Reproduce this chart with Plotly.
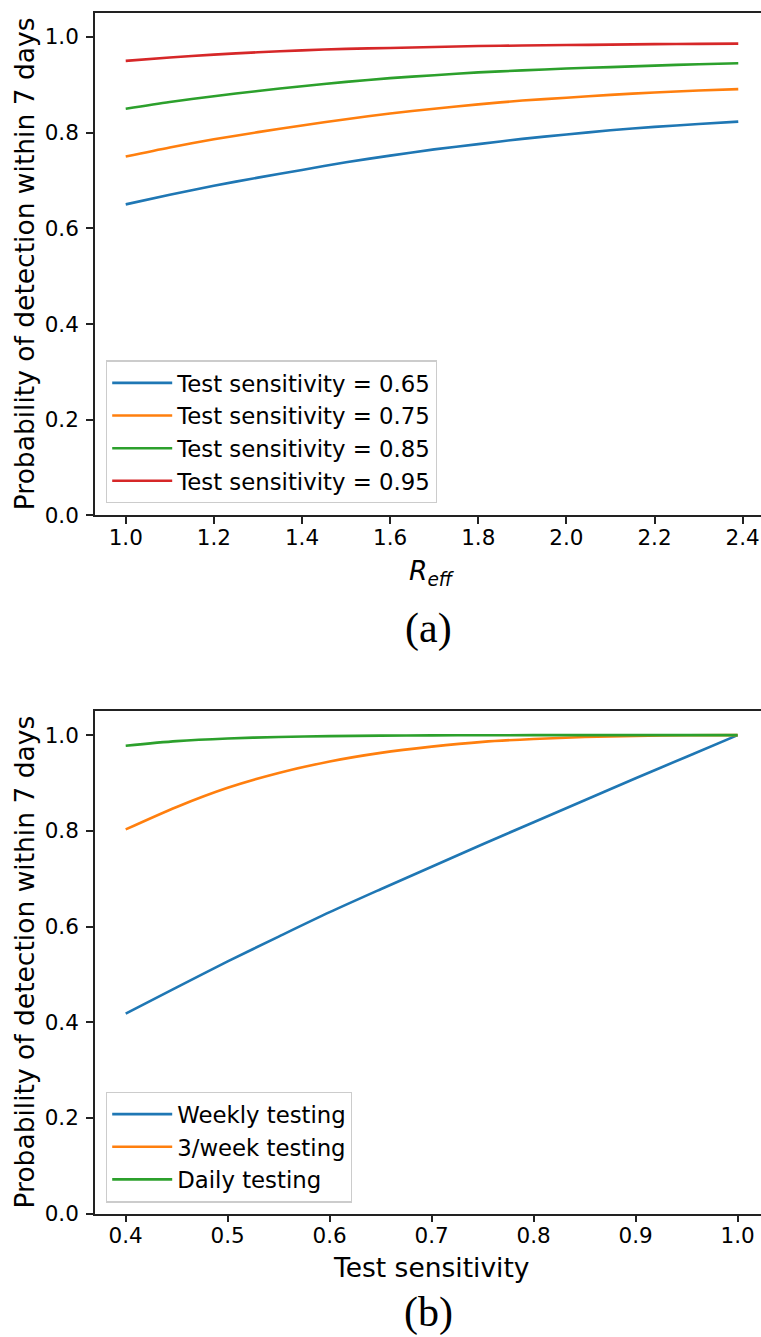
import plotly.graph_objects as go

# ---------------- data: panel (a) ----------------
r_eff = [1.0, 1.1, 1.2, 1.3, 1.4, 1.5, 1.6, 1.7, 1.8, 1.9, 2.0, 2.1, 2.2, 2.3, 2.39]
sens_065 = [0.650, 0.670, 0.689, 0.706, 0.722, 0.738, 0.752, 0.765, 0.776, 0.787, 0.796, 0.805, 0.812, 0.818, 0.823]
sens_075 = [0.750, 0.769, 0.786, 0.801, 0.815, 0.828, 0.840, 0.850, 0.859, 0.867, 0.873, 0.879, 0.884, 0.888, 0.891]
sens_085 = [0.850, 0.864, 0.876, 0.887, 0.897, 0.906, 0.914, 0.920, 0.926, 0.930, 0.934, 0.937, 0.940, 0.943, 0.945]
sens_095 = [0.950, 0.957, 0.963, 0.968, 0.972, 0.975, 0.977, 0.979, 0.981, 0.982, 0.983, 0.984, 0.985, 0.9855, 0.986]
labels_a = ["Test sensitivity = 0.65", "Test sensitivity = 0.75",
            "Test sensitivity = 0.85", "Test sensitivity = 0.95"]

# ---------------- data: panel (b) ----------------
sensitivity = [0.4, 0.45, 0.5, 0.55, 0.6, 0.65, 0.7, 0.75, 0.8, 0.85, 0.9, 0.95, 1.0]
weekly = [0.418, 0.473, 0.527, 0.579, 0.630, 0.678, 0.725, 0.772, 0.818, 0.864, 0.910, 0.955, 1.0]
three_week = [0.803, 0.850, 0.890, 0.921, 0.945, 0.963, 0.976, 0.986, 0.992, 0.996, 0.9985, 0.9997, 1.0]
daily = [0.978, 0.9875, 0.993, 0.9962, 0.998, 0.999, 0.9995, 0.9998, 1.0, 1.0, 1.0, 1.0, 1.0]
labels_b = ["Weekly testing", "3/week testing", "Daily testing"]

colors = ["#1f77b4", "#ff7f0e", "#2ca02c", "#d62728"]

W = 761
REF_H = 1337      # target picture height: positions below are given in its pixels
H = 1351          # layout height (the photo is scaled down to 1337 px)
FONT = "DejaVu Sans"


def py(px):
    return 1 - px / REF_H


fig = go.Figure()

for i, (ys, name) in enumerate(zip([sens_065, sens_075, sens_085, sens_095], labels_a)):
    fig.add_trace(go.Scatter(x=r_eff, y=ys, mode="lines", name=name,
                             line=dict(color=colors[i], width=2.6, shape="spline", smoothing=0.8),
                             xaxis="x", yaxis="y", legend="legend", legendgroup=f"a{i}"))

for i, (ys, name) in enumerate(zip([weekly, three_week, daily], labels_b)):
    fig.add_trace(go.Scatter(x=sensitivity, y=ys, mode="lines", name=name,
                             line=dict(color=colors[i], width=2.6, shape="spline", smoothing=0.8),
                             xaxis="x2", yaxis="y2", legend="legend2", legendgroup=f"b{i}"))

axis_common = dict(showline=True, linecolor="#222", linewidth=1.7, ticks="outside",
                   ticklen=7, tickwidth=1.6, tickcolor="#222", showgrid=False, zeroline=False,
                   tickfont=dict(family=FONT, size=21.5, color="black"))
xax_common = dict(axis_common, ticklabelstandoff=-5)
yax_common = dict(axis_common, ticklabelstandoff=3)

x_dom = [95 / W, 1.0]
leg_common = dict(xanchor="left", yanchor="bottom", itemwidth=60,
                  bgcolor="rgba(255,255,255,0.8)", bordercolor="#cccccc", borderwidth=1.2,
                  font=dict(family=FONT, size=22.8, color="black"), tracegroupgap=0)
fig.update_layout(
    width=W, height=H, margin=dict(l=0, r=0, t=0, b=0),
    paper_bgcolor="white", plot_bgcolor="white",
    font=dict(family=FONT, color="black"),
    xaxis=dict(domain=x_dom, range=[0.9303, 2.4416], anchor="y", mirror=True,
               tickvals=[1.0, 1.2, 1.4, 1.6, 1.8, 2.0, 2.2, 2.4],
               ticktext=["1.0", "1.2", "1.4", "1.6", "1.8", "2.0", "2.2", "2.4"], **xax_common),
    yaxis=dict(domain=[py(515), py(13)], range=[0, 1.05], anchor="x",
               tickvals=[0, 0.2, 0.4, 0.6, 0.8, 1.0],
               ticktext=["0.0", "0.2", "0.4", "0.6", "0.8", "1.0"], **yax_common),
    xaxis2=dict(domain=x_dom, range=[0.3699, 1.0229], anchor="y2", mirror=True,
                tickvals=[0.4, 0.5, 0.6, 0.7, 0.8, 0.9, 1.0],
                ticktext=["0.4", "0.5", "0.6", "0.7", "0.8", "0.9", "1.0"], **xax_common),
    yaxis2=dict(domain=[py(1212.7), py(710.7)], range=[0, 1.05], anchor="x2",
                tickvals=[0, 0.2, 0.4, 0.6, 0.8, 1.0],
                ticktext=["0.0", "0.2", "0.4", "0.6", "0.8", "1.0"], **yax_common),
    legend=dict(x=106 / W, y=py(503), **leg_common),
    legend2=dict(x=106 / W, y=py(1201.7), **leg_common),
    showlegend=True,
)

ylab = "Probability of detection within 7 days"
ann = [
    dict(text=ylab, x=24 / W, y=py(264), textangle=-90, font=dict(size=26.5)),
    dict(text=ylab, x=24 / W, y=py(961.7), textangle=-90, font=dict(size=26.5)),
    dict(text="<i>R<sub>eff</sub></i>", x=431.5 / W, y=py(572), font=dict(size=26.5)),
    dict(text="Test sensitivity", x=431.5 / W, y=py(1267), font=dict(size=26.5)),
    dict(text="(a)", x=428 / W, y=py(628), font=dict(size=42, family="Liberation Serif")),
    dict(text="(b)", x=428 / W, y=py(1312), font=dict(size=42, family="Liberation Serif")),
]
for a in ann:
    f = dict(family=FONT, color="black")
    f.update(a.pop("font"))
    fig.add_annotation(xref="paper", yref="paper", showarrow=False,
                       xanchor="center", yanchor="middle", font=f, **a)

fig.write_html("out.html")
